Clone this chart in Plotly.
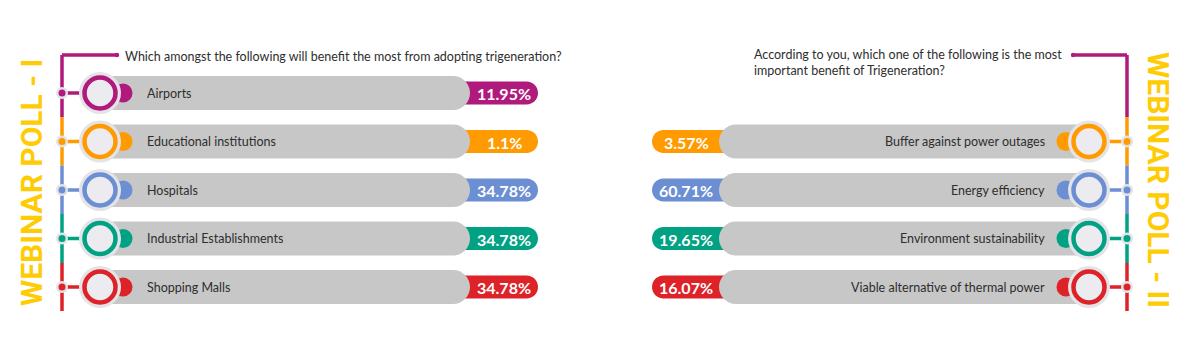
import plotly.graph_objects as go

# ---------------- data ----------------
poll1_title = "WEBINAR POLL - I"
poll1_question = "Which amongst the following will benefit the most from adopting trigeneration?"
poll1_categories = ["Airports", "Educational institutions", "Hospitals",
                    "Industrial Establishments", "Shopping Malls"]
poll1_values = [11.95, 1.1, 34.78, 34.78, 34.78]

poll2_title = "WEBINAR POLL - II"
poll2_question = "According to you, which one of the following is the most<br>important benefit of Trigeneration?"
poll2_categories = ["Buffer against power outages", "Energy efficiency",
                    "Environment sustainability", "Viable alternative of thermal power"]
poll2_values = [3.57, 60.71, 19.65, 16.07]

# ---------------- style ----------------
MAGENTA = "#B01A7C"
ORANGE = "#FF9A00"
BLUE = "#6C8ED3"
GREEN = "#00A283"
RED = "#DD2228"
GRAY = "#C6C7C6"
YELLOW = "#FFCB05"
TEXT = "#2E2E2E"
HALO = "#E4E4E8"
INNER = "#ECEBF0"

poll1_colors = [MAGENTA, ORANGE, BLUE, GREEN, RED]
poll2_colors = [ORANGE, BLUE, GREEN, RED]
spine_colors = [MAGENTA, ORANGE, BLUE, GREEN, RED]

W, H = 1188, 360
OFF = 8  # default page margin of the html body
ROW0, STEP = 93, 48.5
row_y = [ROW0 + STEP * i for i in range(5)]

K = 0.5523


def rrect(x0, x1, y0, y1, rl, rr):
    """rounded rectangle path using cubic curves (rl: left radius, rr: right radius)"""
    p = f"M{x0 + rl},{y0} L{x1 - rr},{y0} "
    if rr:
        p += f"C{x1 - rr + K * rr},{y0} {x1},{y0 + rr - K * rr} {x1},{y0 + rr} "
        p += f"L{x1},{y1 - rr} "
        p += f"C{x1},{y1 - rr + K * rr} {x1 - rr + K * rr},{y1} {x1 - rr},{y1} "
    else:
        p += f"L{x1},{y1} "
    p += f"L{x0 + rl},{y1} "
    if rl:
        p += f"C{x0 + rl - K * rl},{y1} {x0},{y1 - rl + K * rl} {x0},{y1 - rl} "
        p += f"L{x0},{y0 + rl} "
        p += f"C{x0},{y0 + rl - K * rl} {x0 + rl - K * rl},{y0} {x0 + rl},{y0} "
    else:
        p += f"L{x0},{y0} "
    return p + "Z"


shapes = []
annotations = []


def circle(cx, cy, r, fill, line_color=None, lw=0):
    shapes.append(dict(type="circle", xref="x", yref="y", x0=cx - r, x1=cx + r,
                       y0=cy - r, y1=cy + r, fillcolor=fill,
                       line=dict(color=line_color or fill, width=lw)))


def line(x0, y0, x1, y1, color, w):
    shapes.append(dict(type="line", xref="x", yref="y", x0=x0, y0=y0, x1=x1, y1=y1,
                       line=dict(color=color, width=w)))


def path(p, fill):
    shapes.append(dict(type="path", xref="x", yref="y", path=p, fillcolor=fill,
                       line=dict(width=0)))


def node(side, spine_x, cx, y, color):
    tab_x = cx + 23 if side == 1 else cx - 23
    circle(tab_x, y, 9.5, color)
    line(spine_x, y, cx, y, color, 3.5)
    circle(cx, y, 21, HALO)
    circle(cx, y, 15.5, INNER, color, 4.5)
    circle(spine_x, y, 6, HALO)
    circle(spine_x, y, 3.5, color)


def spine(x, top_x):
    bounds = [55, 117, 165.5, 214, 263, 311]
    for i, c in enumerate(spine_colors):
        line(x, bounds[i], x, bounds[i + 1], c, 3.5)
    line(x, 55, top_x, 55, MAGENTA, 3.5)
    circle(top_x, 55, 2.2, MAGENTA)


# ---- Poll I ----
SP1 = 62
spine(SP1, 117)
for i, (cat, val, col) in enumerate(zip(poll1_categories, poll1_values, poll1_colors)):
    y = row_y[i]
    path(rrect(455, 538, y - 11.5, y + 11.5, 0, 11.5), col)
    path(rrect(95, 470, y - 17, y + 17, 0, 17), GRAY)
    node(1, SP1, 100, y, col)
    annotations.append(dict(x=145, y=y, text=cat, xanchor="left", yanchor="middle",
                            showarrow=False, font=dict(family="Lato", size=12.5, color=TEXT)))
    annotations.append(dict(x=504, y=y + 0.5, text=f"{val}%", xanchor="center", yanchor="middle",
                            showarrow=False, font=dict(family="Lato", size=16, color="white",
                                                       weight="bold")))
annotations.append(dict(x=123, y=56, text=poll1_question, xanchor="left", yanchor="middle",
                        showarrow=False, font=dict(family="Lato", size=12.5, color=TEXT)))
annotations.append(dict(x=31, y=183, text=poll1_title, textangle=-90, xanchor="center",
                        yanchor="middle", showarrow=False,
                        font=dict(family="Roboto", size=30, color=YELLOW, weight="bold")))

# ---- Poll II ----
SP2 = 1127
spine(SP2, 1073)
for i, (cat, val, col) in enumerate(zip(poll2_categories, poll2_values, poll2_colors)):
    y = row_y[i + 1]
    path(rrect(652, 735, y - 11.5, y + 11.5, 11.5, 0), col)
    path(rrect(719, 1094, y - 17, y + 17, 17, 0), GRAY)
    node(-1, SP2, 1089, y, col)
    annotations.append(dict(x=1047, y=y, text=cat, xanchor="right", yanchor="middle",
                            showarrow=False, font=dict(family="Lato", size=12.5, color=TEXT)))
    annotations.append(dict(x=686, y=y + 0.5, text=f"{val}%", xanchor="center", yanchor="middle",
                            showarrow=False, font=dict(family="Lato", size=16, color="white",
                                                       weight="bold")))
annotations.append(dict(x=752, y=62, text=poll2_question, xanchor="left", yanchor="middle",
                        align="left", showarrow=False,
                        font=dict(family="Lato", size=12.5, color=TEXT)))
annotations.append(dict(x=1159, y=180, text=poll2_title, textangle=90, xanchor="center",
                        yanchor="middle", showarrow=False,
                        font=dict(family="Roboto", size=30, color=YELLOW, weight="bold")))

fig = go.Figure()
fig.update_layout(
    width=W - OFF, height=H - OFF, autosize=False,
    margin=dict(l=0, r=0, t=0, b=0),
    paper_bgcolor="white", plot_bgcolor="white",
    xaxis=dict(range=[OFF, W], visible=False, fixedrange=True),
    yaxis=dict(range=[H, OFF], visible=False, fixedrange=True),
    shapes=shapes, annotations=annotations, showlegend=False,
)
fig.write_html("out.html")
